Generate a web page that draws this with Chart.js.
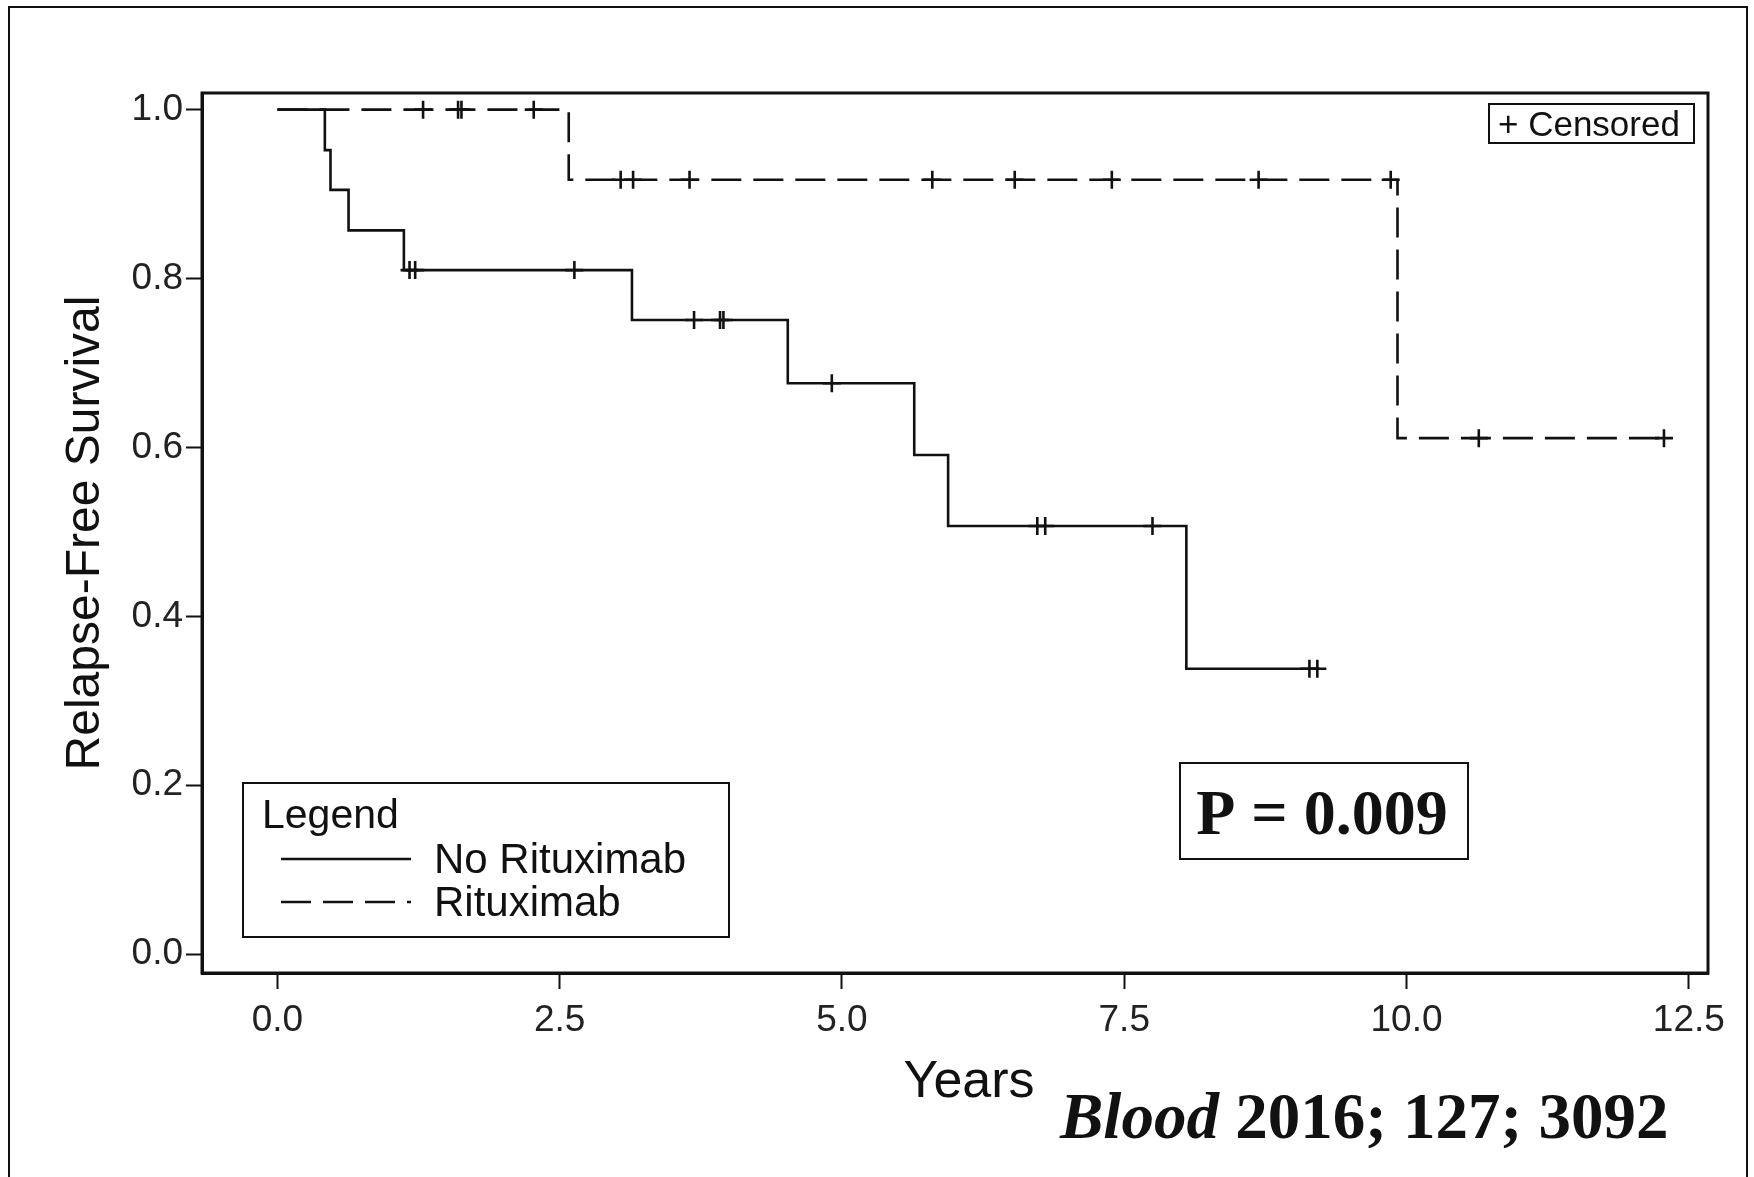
<!DOCTYPE html>
<html>
<head>
<meta charset="utf-8">
<title>Relapse-Free Survival</title>
<script src="https://cdn.jsdelivr.net/npm/chart.js@4.4.1/dist/chart.umd.min.js"></script>
<style>
  html, body { margin: 0; padding: 0; background: #fff; }
  #wrap { position: relative; width: 1754px; height: 1177px; overflow: hidden; }
  #frame { position: absolute; left: 8px; top: 6px; width: 1740px; height: 1220px;
           border: 2.5px solid #111; box-sizing: border-box; pointer-events: none; }
</style>
</head>
<body>
<div id="wrap">
  <canvas id="kmChart" width="1754" height="1177"></canvas>
  <div id="frame"></div>
</div>
<script>
// Kaplan-Meier curves, values

// No Rituximab: step times (years) and survival after each step
const noRitTimes = [0, 0.42, 0.47, 0.63, 1.12, 3.14, 4.52, 5.64, 5.94, 8.05, 9.23];
const noRitSurv  = [1.0, 0.952, 0.905, 0.857, 0.810, 0.751, 0.676, 0.591, 0.507, 0.338, 0.338];
const noRitCensor = [1.17, 1.22, 2.63, 3.69, 3.92, 3.95, 4.91, 6.73, 6.80, 7.75, 9.14, 9.21];

// Rituximab
const ritTimes = [0, 2.58, 9.92, 12.3];
const ritSurv  = [1.0, 0.917, 0.611, 0.611];
const ritCensor = [1.29, 1.60, 1.63, 2.27, 3.04, 3.15, 3.65, 5.80, 6.53, 7.39, 8.69, 9.86, 10.64, 12.28];

const seriesNames = ['No Rituximab', 'Rituximab'];
const xTicks = [0, 2.5, 5, 7.5, 10, 12.5];
const yTicks = [0, 0.2, 0.4, 0.6, 0.8, 1.0];

const SANS = "'Liberation Sans', Arial, sans-serif";
const SERIF = "'Liberation Serif', 'Times New Roman', serif";
const INK = '#111';

function toPoints(times, surv) {
    return times.map((t, i) => ({ x: t, y: surv[i] }));
}

// survival value of the step curve at time t
function survAt(times, surv, t) {
    let s = surv[0];
    for (let i = 0; i < times.length; i++) {
        if (times[i] <= t) s = surv[i];
    }
    return s;
}

function censorPoints(times, surv, cens) {
    return cens.map(t => ({ x: t, y: survAt(times, surv, t) }));
}

// boxes, legend, x title and the citation drawn on top
const overlayPlugin = {
    id: 'overlay',
    afterDraw(chart) {
        const ctx = chart.ctx;
        const a = chart.chartArea;
        ctx.save();

        // plot frame
        ctx.strokeStyle = INK;
        ctx.lineWidth = 3;
        ctx.strokeRect(a.left, a.top, a.right - a.left, a.bottom - a.top);

        // x axis title (sits a little right of centre in the original)
        ctx.fillStyle = INK;
        ctx.font = `52px ${SANS}`;
        ctx.textAlign = 'center';
        ctx.textBaseline = 'alphabetic';
        ctx.fillText('Years', 969, 1097);

        // "+ Censored" key
        ctx.lineWidth = 2;
        ctx.strokeRect(1489, 104, 205, 39);
        ctx.font = `35px ${SANS}`;
        ctx.textAlign = 'left';
        ctx.fillText('+ Censored', 1498, 136);

        // legend box
        ctx.strokeRect(243, 783, 486, 154);
        ctx.font = `41px ${SANS}`;
        ctx.fillText('Legend', 262, 828);
        ctx.font = `42px ${SANS}`;
        const rows = [859, 902];
        chart.data.datasets.slice(0, 2).forEach((ds, i) => {
            ctx.save();
            ctx.lineWidth = ds.borderWidth;
            ctx.strokeStyle = ds.borderColor;
            ctx.setLineDash(ds.borderDash || []);
            ctx.beginPath();
            ctx.moveTo(281, rows[i]);
            ctx.lineTo(411, rows[i]);
            ctx.stroke();
            ctx.restore();
            ctx.fillText(ds.label, 434, rows[i] + 14);
        });

        // p-value
        ctx.lineWidth = 2;
        ctx.strokeRect(1180, 763, 288, 96);
        ctx.font = `bold 64px ${SERIF}`;
        ctx.textAlign = 'center';
        ctx.fillText('P = 0.009', 1322, 834);

        // citation
        ctx.textAlign = 'left';
        ctx.font = `italic bold 65px ${SERIF}`;
        ctx.fillText('Blood', 1060, 1138);
        const w = ctx.measureText('Blood').width;
        ctx.font = `bold 65px ${SERIF}`;
        ctx.fillText(' 2016; 127; 3092', 1060 + w, 1138);

        ctx.restore();
    }
};

const ctx = document.getElementById('kmChart').getContext('2d');
new Chart(ctx, {
    type: 'line',
    data: {
        datasets: [
            {
                label: seriesNames[0],
                data: toPoints(noRitTimes, noRitSurv),
                stepped: 'before',
                borderColor: INK,
                borderWidth: 2.6,
                pointRadius: 0,
                fill: false
            },
            {
                label: seriesNames[1],
                data: toPoints(ritTimes, ritSurv),
                stepped: 'before',
                borderColor: INK,
                borderWidth: 2.6,
                borderDash: [30, 12],
                pointRadius: 0,
                fill: false
            },
            {
                label: seriesNames[0] + ' censored',
                data: censorPoints(noRitTimes, noRitSurv, noRitCensor),
                showLine: false,
                pointStyle: 'cross',
                pointRadius: 9,
                pointBorderWidth: 2.6,
                pointBorderColor: INK
            },
            {
                label: seriesNames[1] + ' censored',
                data: censorPoints(ritTimes, ritSurv, ritCensor),
                showLine: false,
                pointStyle: 'cross',
                pointRadius: 9,
                pointBorderWidth: 2.6,
                pointBorderColor: INK
            }
        ]
    },
    options: {
        responsive: false,
        animation: false,
        layout: { padding: { top: 93, right: 46, left: 0, bottom: 0 } },
        plugins: {
            legend: { display: false },
            tooltip: { enabled: false }
        },
        scales: {
            x: {
                type: 'linear',
                min: -0.668,
                max: 12.67,
                afterBuildTicks: s => { s.ticks = xTicks.map(v => ({ value: v })); },
                afterFit: s => { s.height = 204; },
                grid: { drawOnChartArea: false, drawTicks: true, tickLength: 16, tickWidth: 2, tickColor: INK },
                border: { display: true, width: 3, color: INK },
                ticks: {
                    autoSkip: false, maxRotation: 0, padding: 10,
                    color: '#222', font: { family: SANS, size: 37 },
                    callback: v => Number(v).toFixed(1)
                },
                title: { display: false, text: 'Years' }
            },
            y: {
                min: -0.0223,
                max: 1.0197,
                afterBuildTicks: s => { s.ticks = yTicks.map(v => ({ value: v })); },
                afterFit: s => { s.width = 202; },
                grid: { drawOnChartArea: false, drawTicks: true, tickLength: 16, tickWidth: 2, tickColor: INK },
                border: { display: true, width: 3, color: INK },
                ticks: {
                    autoSkip: false, padding: 3,
                    color: '#222', font: { family: SANS, size: 37 },
                    callback: v => Number(v).toFixed(1)
                },
                title: {
                    display: true, text: 'Relapse-Free Survival', color: INK,
                    font: { family: SANS, size: 48 },
                    padding: { top: 57, bottom: 0 }
                }
            }
        }
    },
    plugins: [overlayPlugin]
});
</script>
</body>
</html>
